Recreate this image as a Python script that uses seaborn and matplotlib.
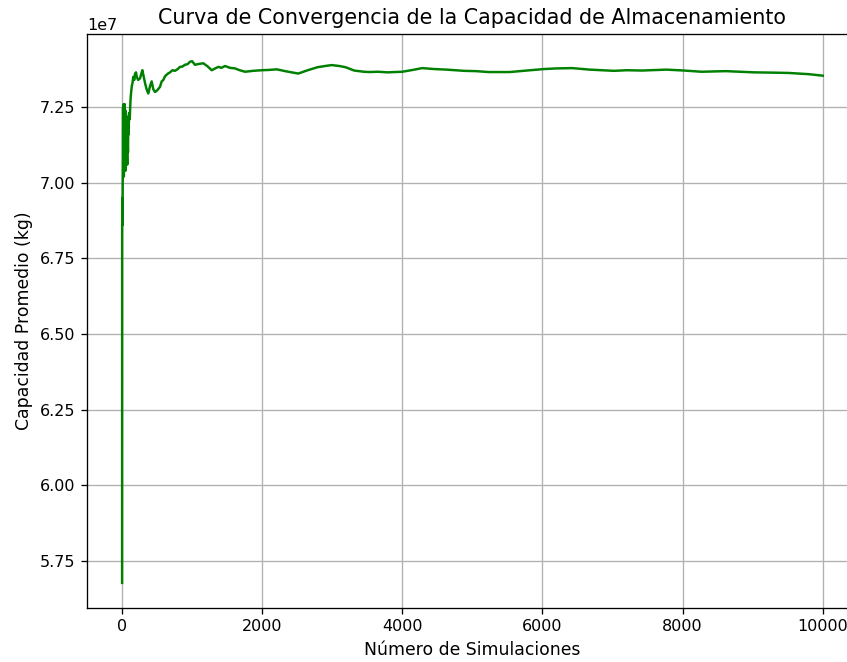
import numpy as np
import pandas as pd
import matplotlib
matplotlib.use("Agg")
import matplotlib.pyplot as plt
import seaborn as sns

# Numero de simulacion (lectura aproximada de la grafica)
simulaciones = [
    1, 2, 4, 6, 9, 12, 15, 18, 22, 26, 30, 34, 38, 42, 46, 50, 55, 60, 65, 70,
    75, 80, 85, 90, 95, 100, 110, 120, 130, 140, 150, 160, 175, 185, 200, 210,
    230, 257, 275, 290, 310, 328, 350, 375, 400, 423, 445, 470, 500, 542, 566,
    590, 613, 650, 685, 720, 756, 790, 827, 860, 898, 935, 970, 1000, 1041,
    1100, 1160, 1220, 1280, 1330, 1374, 1420, 1469, 1540, 1612, 1680, 1755,
    1870, 1993, 2100, 2207, 2350, 2515, 2650, 2790, 2900, 2990, 3100, 3189,
    3313, 3450, 3537, 3650, 3786, 4000, 4150, 4284, 4450, 4632, 4881, 5050,
    5230, 5529, 5778, 6027, 6200, 6425, 6674, 7023, 7200, 7421, 7770, 8019,
    8268, 8617, 9015, 9300, 9513, 9800, 10000,
]

# Capacidad promedio acumulada, en unidades de 1e7 kg
capacidad_e7 = [
    5.677, 6.83, 6.95, 6.86, 6.97, 7.10, 7.25, 7.05, 7.26, 7.02, 7.20, 7.08,
    7.26, 7.12, 7.24, 7.04, 7.18, 7.06, 7.22, 7.10, 7.06, 7.14, 7.10, 7.20,
    7.16, 7.23, 7.21, 7.27, 7.30, 7.32, 7.33, 7.35, 7.34, 7.36, 7.365, 7.35,
    7.34, 7.345, 7.36, 7.372, 7.35, 7.33, 7.31, 7.295, 7.32, 7.335, 7.31,
    7.30, 7.305, 7.317, 7.335, 7.34, 7.352, 7.36, 7.365, 7.372, 7.37, 7.375,
    7.383, 7.384, 7.39, 7.392, 7.400, 7.402, 7.390, 7.393, 7.395, 7.385,
    7.372, 7.378, 7.383, 7.380, 7.386, 7.380, 7.378, 7.372, 7.367, 7.370,
    7.372, 7.373, 7.375, 7.368, 7.361, 7.372, 7.382, 7.386, 7.389, 7.386,
    7.382, 7.371, 7.367, 7.366, 7.367, 7.365, 7.367, 7.373, 7.379, 7.376,
    7.374, 7.370, 7.369, 7.366, 7.366, 7.371, 7.376, 7.378, 7.379, 7.374,
    7.370, 7.372, 7.371, 7.374, 7.371, 7.367, 7.369, 7.365, 7.364, 7.363,
    7.359, 7.354,
]

df = pd.DataFrame({
    "simulacion": simulaciones,
    "capacidad": np.array(capacidad_e7) * 1e7,
})

# la imagen original parece renderizada un poco mas grande (~1.18x)
esc = 1.18
plt.rcParams.update({
    "font.size": 11.5,
    "xtick.major.size": 3.5 * esc,
    "ytick.major.size": 3.5 * esc,
    "xtick.major.pad": 3.5 * esc,
    "ytick.major.pad": 3.5 * esc,
    "xtick.major.width": 0.8 * esc,
    "ytick.major.width": 0.8 * esc,
    "axes.linewidth": 0.8 * esc,
    "grid.linewidth": 0.8 * esc,
    "axes.labelpad": 4.0 * esc,
    "axes.titlepad": 6.0 * esc,
})

fig = plt.figure(figsize=(8.47, 6.62), dpi=100)
# el eje se sale un poco por la derecha, como en la imagen original recortada
ax = fig.add_axes([0.1027, 0.0816, 0.910, 0.867])

sns.lineplot(data=df, x="simulacion", y="capacidad", color="green",
             linewidth=1.5 * esc, estimator=None, ax=ax)

ax.set_xlim(-500, 10500)
ax.set_ylim(5.594e7, 7.4917e7)
ax.set_xticks([0, 2000, 4000, 6000, 8000, 10000])
ax.set_yticks([5.75e7, 6.0e7, 6.25e7, 6.5e7, 6.75e7, 7.0e7, 7.25e7])
ax.tick_params(labelsize=11.5)
ax.grid(True)
ax.set_title("Curva de Convergencia de la Capacidad de Almacenamiento", fontsize=14.9)
ax.set_xlabel("Número de Simulaciones", fontsize=12.4)
ax.set_ylabel("Capacidad Promedio (kg)", fontsize=12.4)

fig.savefig("out.png", dpi=100)
plt.close(fig)
